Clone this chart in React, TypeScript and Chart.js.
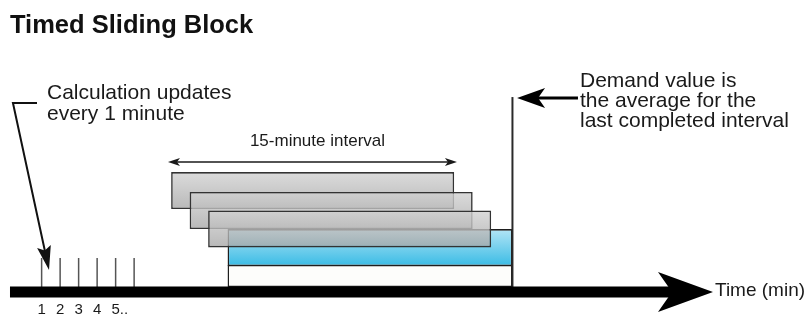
import { useEffect, useRef } from 'react';
import { Chart, registerables } from 'chart.js';

Chart.register(...registerables);

// ---------- data (minutes on x, levels on y; axis line = level 0) ----------
const TITLE = 'Timed Sliding Block';
const blockNames = ['Interval 1', 'Interval 2', 'Interval 3', 'Last completed interval'];
const blockStart = [8.0, 9.0, 10.0, 11.05];
const blockEnd = [23.3, 24.3, 25.3, 26.45];
const blockLevel = [5.34, 4.29, 3.32, 2.34];
const baseStart = [11.05];
const baseEnd = [26.45];
const baseLevel = [0.84];

const tickMinutes = [1, 2, 3, 4, 5, 6];
const tickLabels = ['1', '2', '3', '4', '5..'];
const tickTopLevel = 1.79;

const axisStart = -0.71;
const axisTip = 37.29;
const axisLabel = 'Time (min)';

const intervalFrom = [7.83];
const intervalTo = [23.45];
const intervalLevel = [6.84];
const intervalText = '15-minute interval';

const calcLines = ['Calculation updates', 'every 1 minute'];
const calcTextX = [1.29];
const calcTextLevel = [10.16, 9.05];
const calcArrowPath = [
  { x: 0.75, y: 9.95 },
  { x: -0.55, y: 9.95 },
  { x: 1.4, y: 1.16 },
];

const demandLines = ['Demand value is', 'the average for the', 'last completed interval'];
const demandTextX = [30.1];
const demandTextLevel = [10.79, 9.74, 8.68];
const demandLineX = [26.45];
const demandLineTop = [10.26];
const demandArrowFrom = [30.1];
const demandArrowTip = [26.7];
const demandArrowLevel = [10.21];

// ---------- layout ----------
const W = 808;
const H = 318;
const XMIN = -1.25;
const XMAX = -1.25 + 808 / 18.5;
const YMIN = -26 / 19;
const YMAX = 292 / 19;
const FONT = '"Liberation Sans", Arial, Helvetica, sans-serif';

function arrowHead(ctx: CanvasRenderingContext2D, tx: number, ty: number, ang: number, len: number, half: number, notch: number) {
  const c = Math.cos(ang);
  const s = Math.sin(ang);
  const bx = tx - c * len;
  const by = ty - s * len;
  ctx.beginPath();
  ctx.moveTo(tx, ty);
  ctx.lineTo(bx - s * half, by + c * half);
  ctx.lineTo(tx - c * (len - notch), ty - s * (len - notch));
  ctx.lineTo(bx + s * half, by - c * half);
  ctx.closePath();
  ctx.fill();
}

const diagramPlugin = {
  id: 'diagram',
  afterDatasetsDraw(chart: any) {
    const ctx: CanvasRenderingContext2D = chart.ctx;
    const xs = chart.scales.x;
    const ys = chart.scales.y;
    const px = (v: number) => xs.getPixelForValue(v);
    const py = (v: number) => ys.getPixelForValue(v);
    ctx.save();

    // demand vertical line
    ctx.strokeStyle = '#2a2a2a';
    ctx.lineWidth = 2;
    ctx.beginPath();
    ctx.moveTo(px(demandLineX[0]), py(demandLineTop[0]));
    ctx.lineTo(px(demandLineX[0]), py(0));
    ctx.stroke();

    // minute ticks
    ctx.strokeStyle = '#555';
    ctx.lineWidth = 1.5;
    tickMinutes.forEach((m) => {
      ctx.beginPath();
      ctx.moveTo(px(m), py(tickTopLevel));
      ctx.lineTo(px(m), py(0));
      ctx.stroke();
    });

    // time axis
    ctx.fillStyle = '#000';
    ctx.strokeStyle = '#000';
    ctx.lineWidth = 11;
    const tipX = px(axisTip);
    ctx.beginPath();
    ctx.moveTo(px(axisStart), py(0));
    ctx.lineTo(tipX - 40, py(0));
    ctx.stroke();
    arrowHead(ctx, tipX, py(0), 0, 55, 20, 14);

    ctx.fillStyle = '#1a1a1a';
    ctx.textBaseline = 'alphabetic';
    ctx.font = `19px ${FONT}`;
    ctx.textAlign = 'left';
    ctx.fillText(axisLabel, tipX + 2, py(0) + 4);

    // tick labels
    ctx.font = `15px ${FONT}`;
    tickLabels.forEach((t, i) => {
      const w = ctx.measureText(t.charAt(0)).width;
      ctx.fillText(t, px(tickMinutes[i]) - w / 2, 314);
    });

    // interval double arrow
    ctx.fillStyle = '#1a1a1a';
    ctx.strokeStyle = '#1a1a1a';
    ctx.lineWidth = 1.5;
    const iy = py(intervalLevel[0]);
    const ix0 = px(intervalFrom[0]);
    const ix1 = px(intervalTo[0]);
    ctx.beginPath();
    ctx.moveTo(ix0 + 4, iy);
    ctx.lineTo(ix1 - 4, iy);
    ctx.stroke();
    arrowHead(ctx, ix0, iy, Math.PI, 12, 4, 3);
    arrowHead(ctx, ix1, iy, 0, 12, 4, 3);
    ctx.font = `17px ${FONT}`;
    ctx.textAlign = 'center';
    ctx.fillText(intervalText, (ix0 + ix1) / 2 + 5, py(7.68));

    // calculation callout
    ctx.textAlign = 'left';
    ctx.font = `21px ${FONT}`;
    calcLines.forEach((l, i) => ctx.fillText(l, px(calcTextX[0]), py(calcTextLevel[i])));
    ctx.strokeStyle = '#111';
    ctx.fillStyle = '#111';
    ctx.lineWidth = 2;
    const pts = calcArrowPath.map((p) => ({ x: px(p.x), y: py(p.y) }));
    const last = pts[pts.length - 1];
    const prev = pts[pts.length - 2];
    const ang = Math.atan2(last.y - prev.y, last.x - prev.x);
    ctx.beginPath();
    ctx.moveTo(pts[0].x, pts[0].y);
    ctx.lineTo(pts[1].x, pts[1].y);
    ctx.lineTo(last.x - Math.cos(ang) * 12, last.y - Math.sin(ang) * 12);
    ctx.stroke();
    arrowHead(ctx, last.x, last.y, ang, 24, 7, 4);

    // demand callout
    ctx.fillStyle = '#1a1a1a';
    demandLines.forEach((l, i) => ctx.fillText(l, px(demandTextX[0]), py(demandTextLevel[i])));
    ctx.strokeStyle = '#000';
    ctx.fillStyle = '#000';
    ctx.lineWidth = 3;
    const dy = py(demandArrowLevel[0]);
    ctx.beginPath();
    ctx.moveTo(px(demandArrowFrom[0]) - 2, dy);
    ctx.lineTo(px(demandArrowTip[0]) + 20, dy);
    ctx.stroke();
    arrowHead(ctx, px(demandArrowTip[0]), dy, Math.PI, 28, 10, 7);

    // title
    ctx.fillStyle = '#111';
    ctx.font = `bold 25.5px ${FONT}`;
    ctx.textAlign = 'left';
    ctx.fillText(TITLE, 10, 33);

    ctx.restore();
  },
};

function makeGradient(i: number, top: string, bottom: string, fallback: string) {
  return (c: any) => {
    const chart = c.chart;
    const ys = chart.scales && chart.scales.y;
    if (!ys) return fallback;
    const yc = ys.getPixelForValue(blockLevel[i]);
    if (!Number.isFinite(yc)) return fallback;
    const g = chart.ctx.createLinearGradient(0, yc - 18, 0, yc + 18);
    g.addColorStop(0, top);
    g.addColorStop(1, bottom);
    return g;
  };
}

export default function App() {
  const ref = useRef<HTMLCanvasElement | null>(null);

  useEffect(() => {
    document.body.style.margin = '0';
    const canvas = ref.current;
    if (!canvas) return;

    const common = {
      grouped: false,
      barPercentage: 10,
      categoryPercentage: 1,
      borderSkipped: false,
    };

    const datasets: any[] = blockNames.map((name, i) => {
      const isBlue = i === blockNames.length - 1;
      return {
        ...common,
        label: name,
        data: [{ x: [blockStart[i], blockEnd[i]], y: blockLevel[i] }],
        backgroundColor: isBlue
          ? makeGradient(i, '#b2e4f5', '#3bbce5', '#6ccbe9')
          : makeGradient(i, 'rgba(210,210,210,0.8)', 'rgba(168,168,168,0.8)', 'rgba(190,190,190,0.8)'),
        borderColor: isBlue ? '#1e1e1e' : '#333333',
        borderWidth: 1.6,
        maxBarThickness: 37,
        order: isBlue ? 3 : 2 - i,
      };
    });
    datasets.push({
      ...common,
      label: 'base',
      data: [{ x: [baseStart[0], baseEnd[0]], y: baseLevel[0] }],
      backgroundColor: '#fdfdfb',
      borderColor: '#1e1e1e',
      borderWidth: 1.5,
      maxBarThickness: 22,
      order: 4,
    });

    const chart = new Chart(canvas, {
      type: 'bar',
      data: { datasets },
      options: {
        indexAxis: 'y',
        responsive: false,
        animation: false,
        events: [],
        layout: { padding: 0 },
        plugins: { legend: { display: false }, tooltip: { enabled: false }, title: { display: false } },
        scales: {
          x: { type: 'linear', min: XMIN, max: XMAX, display: false, offset: false },
          y: { type: 'linear', min: YMIN, max: YMAX, display: false, offset: false },
        },
      },
      plugins: [diagramPlugin],
    } as any);

    return () => chart.destroy();
  }, []);

  return (
    <div style={{ width: W, height: H, background: '#fff' }}>
      <canvas ref={ref} width={W} height={H} style={{ display: 'block' }} />
    </div>
  );
}
